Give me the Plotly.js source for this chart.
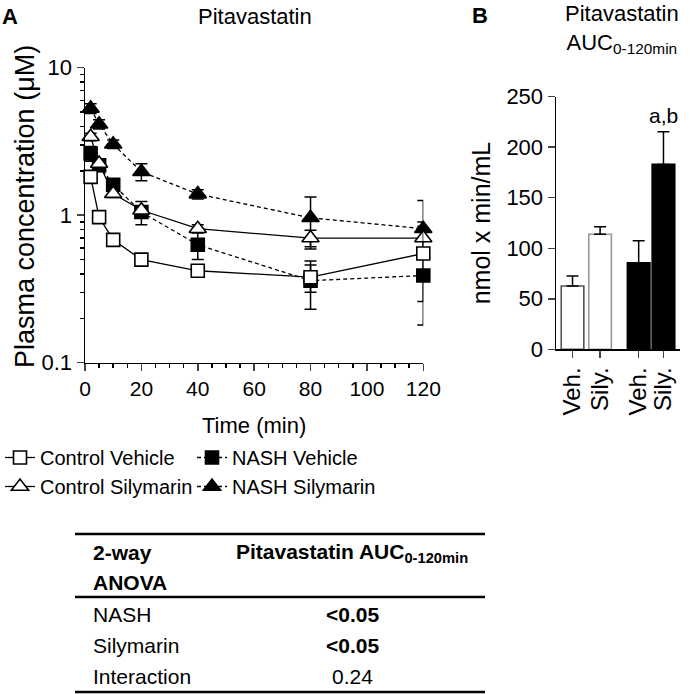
<!DOCTYPE html>
<html>
<head>
<meta charset="utf-8">
<script src="https://cdn.plot.ly/plotly-3.0.1.min.js"></script>
<style>html,body{margin:0;padding:0;background:#fff;}#chart{width:690px;height:694px;}</style>
</head>
<body>
<div id="chart"></div>
<script>
// ---------- data ----------
var timeMin = [2, 5, 10, 20, 40, 80, 120];
var ctrlVehicle    = [1.82, 0.97, 0.68, 0.50, 0.42, 0.38, 0.55];
var ctrlVehicleErr = [0.10, 0.05, 0.04, 0.03, 0.03, 0.08, 0.29];
var ctrlSilymarin    = [3.4, 2.24, 1.40, 1.08, 0.81, 0.70, 0.70];
var ctrlSilymarinErr = [0.2, 0.10, 0.08, 0.08, 0.05, 0.09, 0.20];
var nashVehicle    = [2.62, 2.18, 1.61, 1.05, 0.63, 0.36, 0.39];
var nashVehicleErr = [0.30, 0.20, 0.15, 0.19, 0.13, 0.13, 0.21];
var nashSilymarin    = [5.3, 4.14, 3.03, 1.97, 1.39, 0.96, 0.81];
var nashSilymarinErr = [0.4, 0.30, 0.20, 0.26, 0.10, 0.37, 0.45];

var barLabels = ['Veh.', 'Sily.', 'Veh.', 'Sily.'];
var barGroups = ['Control', 'Control', 'NASH', 'NASH'];
var aucValues = [62.6, 113.8, 85.7, 183.0];
var aucErrors = [9.9, 7.5, 21.7, 32.2];

var anovaRows = ['NASH', 'Silymarin', 'Interaction'];
var anovaP = ['<0.05', '<0.05', '0.24'];
var anovaBold = [true, true, false];

// ---------- layout helpers ----------
var W = 690, H = 694;
function px(x){ return x / W; }
function py(y){ return 1 - y / H; }
var FR = '"Liberation Sans", Arial, Helvetica, sans-serif';
var HS = 21;   // horizontal text size
var VS = 25;   // vertical text size
var barPos = [0, 1, 2.4, 3.3];

function lineTrace(name, y, err, symbol, fill, dash, legend, rank){
  return {
    type: 'scatter', mode: 'lines+markers', name: name,
    x: timeMin, y: y, xaxis: 'x', yaxis: 'y',
    line: {color: '#000', width: 1.3, dash: dash},
    marker: {symbol: symbol, size: symbol.indexOf('triangle') === 0 ? 15 : 13,
             color: fill, line: {color: '#000', width: 1.6}},
    error_y: {type: 'data', array: err, visible: true, color: '#000', thickness: 1.5, width: 6},
    cliponaxis: false, legend: legend, legendrank: rank
  };
}

var traces = [
  lineTrace('NASH Silymarin', nashSilymarin, nashSilymarinErr, 'triangle-up', '#000', '4px,3px', 'legend2', 2),
  lineTrace('NASH Vehicle', nashVehicle, nashVehicleErr, 'square', '#000', '4px,3px', 'legend2', 1),
  lineTrace('Control Silymarin', ctrlSilymarin, ctrlSilymarinErr, 'triangle-up', '#fff', 'solid', 'legend', 2),
  lineTrace('Control Vehicle', ctrlVehicle, ctrlVehicleErr, 'square', '#fff', 'solid', 'legend', 1),
  {
    type: 'bar', x: barPos, y: aucValues, xaxis: 'x2', yaxis: 'y2', width: 0.82,
    customdata: barGroups, showlegend: false,
    marker: {color: barGroups.map(function(g){ return g === 'NASH' ? '#000' : '#fff'; }),
             line: {color: ['#555', '#999', '#000', '#000'], width: 1.6}},
    error_y: {type: 'data', symmetric: false, array: aucErrors, arrayminus: aucErrors.map(function(){return 0;}),
              visible: true, color: '#000', thickness: 1.5, width: 6}
  }
];

function ann(text, x, y, anchor, opts){
  var a = {text: text, x: px(x), y: py(y), xref: 'paper', yref: 'paper', xanchor: anchor || 'center', yanchor: 'middle',
           showarrow: false, font: {size: HS, family: FR}};
  if (opts) for (var k in opts) a[k] = opts[k];
  return a;
}

var annotations = [
  ann('<b>A</b>', 0, 17, 'left', {font: {size: 22, family: FR}}),
  ann('Pitavastatin', 255, 17, 'center', {font: {size: 22, family: FR}}),
  ann('<b>B</b>', 470, 15, 'left', {font: {size: 22, family: FR}}),
  ann('Pitavastatin<br>AUC<sub>0-120min</sub>', 622, 29, 'center', {align: 'center', font: {size: 22, family: FR}}),
  ann('Plasma concentration (μM)', 25, 207, 'center', {textangle: -90, font: {size: 27, family: FR}}),
  {text: 'a,b', x: barPos[3], y: aucValues[3] + aucErrors[3], xref: 'x2', yref: 'y2', yanchor: 'bottom', yshift: 3,
   showarrow: false, font: {size: 21, family: FR}},
  // table
  ann('<b>2-way</b>', 91, 552, 'left'),
  ann('<b>ANOVA</b>', 91, 582, 'left'),
  ann('<b>Pitavastatin AUC<sub>0-120min</sub></b>', 352, 553, 'center')
];
anovaRows.forEach(function(r, i){
  var yy = 614 + i * 31;
  annotations.push(ann(r, 91, yy, 'left'));
  annotations.push(ann(anovaBold[i] ? '<b>' + anovaP[i] + '</b>' : anovaP[i], 352, yy, 'center'));
});

var shapes = [534, 597, 692].map(function(y){
  return {type: 'line', xref: 'paper', yref: 'paper', x0: px(75), x1: px(485), y0: py(y), y1: py(y), line: {color: '#000', width: 2.5}};
});

var layout = {
  width: W, height: H, margin: {l: 0, r: 0, t: 0, b: 0},
  paper_bgcolor: '#fff', plot_bgcolor: '#fff',
  font: {family: FR, size: HS, color: '#000'},
  showlegend: true,
  xaxis: {
    domain: [px(85), px(423.3)], anchor: 'y', range: [0, 120],
    tickvals: [0, 20, 40, 60, 80, 100, 120], ticks: 'outside', ticklen: 7, tickwidth: 1.5,
    showline: true, linecolor: '#000', linewidth: 1.5, showgrid: false, zeroline: false,
    tickfont: {size: HS, family: FR},
    minor: {dtick: 5, ticks: 'outside', ticklen: 4, tickwidth: 1.5, tickcolor: '#000', showgrid: false},
    title: {text: 'Time (min)', font: {size: 22, family: FR}, standoff: 18}
  },
  yaxis: {
    domain: [py(362.7), py(67.7)], anchor: 'x', type: 'log', range: [-1, 1],
    tickvals: [0.1, 1, 10], ticktext: ['0.1', '1', '10'], ticks: 'outside', ticklen: 7, tickwidth: 1.5,
    showline: true, linecolor: '#000', linewidth: 1.5, showgrid: false, zeroline: false,
    tickfont: {size: 22, family: FR},
    minor: {tickvals: [0.2,0.3,0.4,0.5,0.6,0.7,0.8,0.9,2,3,4,5,6,7,8,9], ticks: 'outside', ticklen: 4, tickwidth: 1.5, tickcolor: '#000', showgrid: false}
  },
  xaxis2: {
    domain: [px(556), px(680)], anchor: 'y2', range: [-0.6, 3.9],
    tickvals: barPos, ticktext: barLabels, tickangle: -90, ticks: 'outside', ticklen: 7, tickwidth: 1.5,
    showline: true, linecolor: '#000', linewidth: 1.5, showgrid: false, zeroline: false,
    tickfont: {size: 24, family: FR}
  },
  yaxis2: {
    domain: [py(349.3), py(96.7)], anchor: 'x2', range: [0, 250],
    dtick: 50, ticks: 'outside', ticklen: 7, tickwidth: 1.5,
    showline: true, linecolor: '#000', linewidth: 1.5, showgrid: false, zeroline: false,
    tickfont: {size: 22, family: FR},
    title: {text: 'nmol x min/mL', font: {size: VS, family: FR}, standoff: 8}
  },
  legend: {x: 0, y: py(438), xanchor: 'left', yanchor: 'top', orientation: 'v', font: {size: 20, family: FR}, itemwidth: 30, bgcolor: 'rgba(0,0,0,0)', tracegroupgap: 0},
  legend2: {x: px(192), y: py(438), xanchor: 'left', yanchor: 'top', orientation: 'v', font: {size: 20, family: FR}, itemwidth: 30, bgcolor: 'rgba(0,0,0,0)', tracegroupgap: 0},
  annotations: annotations,
  shapes: shapes
};

Plotly.newPlot('chart', traces, layout, {displayModeBar: false, staticPlot: true});
</script>
</body>
</html>
